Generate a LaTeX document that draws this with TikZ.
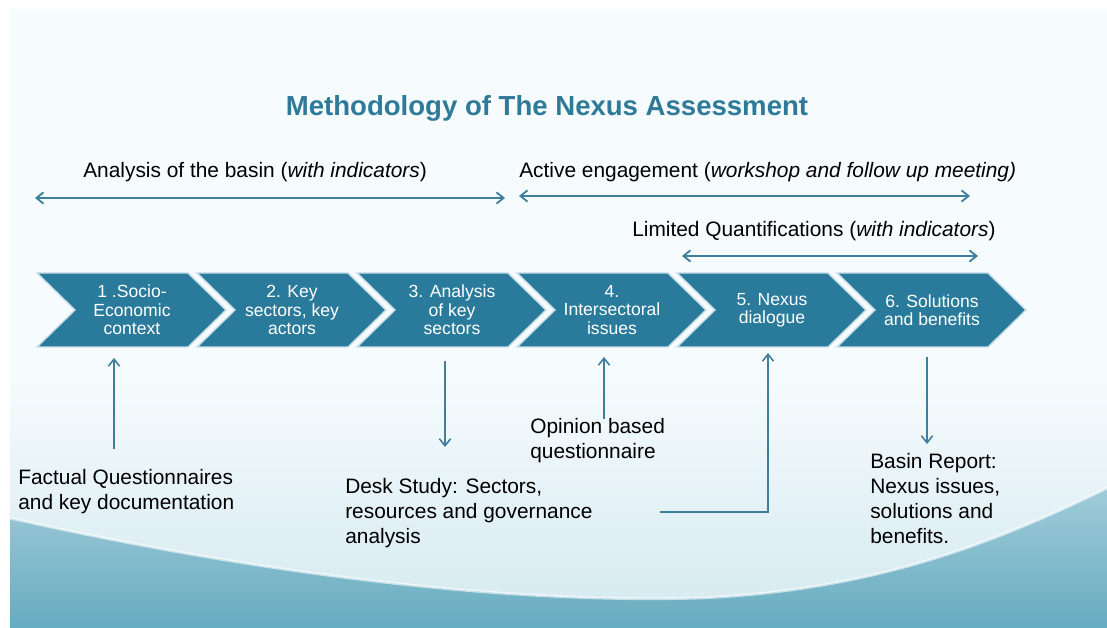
\documentclass[tikz,border=0pt]{standalone}
\usepackage{fontspec}
\setmainfont{Liberation Sans}
\usepackage{tikz}
\usetikzlibrary{arrows.meta,positioning}
\usepackage{xcolor}

\definecolor{chevblue}{HTML}{2A7B9B}
\definecolor{titleblue}{HTML}{2F7A99}
\definecolor{arrblue}{HTML}{3E7F9D}
\definecolor{slidebg}{HTML}{F6FBFD}
\definecolor{wavelight}{HTML}{D3E9F0}
\definecolor{wavemid}{HTML}{A0CCD9}
\definecolor{wavedark}{HTML}{66ABC0}

\tikzset{
    chevron/.style={fill=chevblue, draw=white!75!chevblue, line width=1pt},
    chevtext/.style={text=white, align=center, font=\fontsize{12.5}{13}\selectfont},
    label/.style={anchor=west, inner sep=0pt, font=\fontsize{14.85}{17.8}\selectfont},
    note/.style={anchor=north west, inner sep=0pt, align=left, font=\fontsize{14.85}{17.8}\selectfont},
    span/.style={arrblue, line width=1.3pt, {Straight Barb[length=5pt,width=8pt]}-{Straight Barb[length=5pt,width=8pt]}},
    flow/.style={arrblue, line width=1.1pt, -{Straight Barb[length=5pt,width=8pt]}}
}

\begin{document}
\begin{tikzpicture}[x=0.025cm, y=-0.025cm]
        \useasboundingbox (0,0) rectangle (1107,628);

        % Slide background
        \fill[white] (0,0) rectangle (1107,628);
        \fill[slidebg] (10,9) rectangle (1107,628);
        \shade[top color=slidebg, bottom color=wavelight] (10,380) rectangle (1107,628);
        \shade[top color=wavemid, bottom color=wavedark] (10,628) -- (10,518)
            .. controls (250,572) and (500,604) .. (700,598)
            .. controls (880,590) and (1000,540) .. (1107,488) -- (1107,628) -- cycle;
        \draw[white, opacity=0.6, line width=2pt] (10,518)
            .. controls (250,572) and (500,604) .. (700,598)
            .. controls (880,590) and (1000,540) .. (1107,488);

        % Title
        \node[text=titleblue, font=\bfseries\fontsize{19.6}{22}\selectfont] (title) at (547,108) {Methodology of The Nexus Assessment};

        % Phase labels and spans
        \node[label] (basin) at (83,172) {Analysis of the basin (\textit{with indicators})};
        \node[label] (active) at (519,172) {Active engagement (\textit{workshop and follow up meeting)}};
        \node[label] (limited) at (632,231) {Limited Quantifications (\textit{with indicators})};

        \coordinate (basinL) at (35,198);
        \coordinate (basinR) at (505,198);
        \coordinate (activeL) at (519,196);
        \coordinate (activeR) at (970,196);
        \coordinate (limitedL) at (682,256);
        \coordinate (limitedR) at (978,256);
        \draw[span] (basinL) -- (basinR);
        \draw[span] (activeL) -- (activeR);
        \draw[span] (limitedL) -- (limitedR);

        % Steps (chevrons)
        \foreach \txt [count=\i] in {{1 .Socio-\\Economic\\context}, {2. Key\\sectors, key\\actors},
                {3. Analysis\\of key\\sectors}, {4.\\Intersectoral\\issues},
                {5. Nexus\\dialogue}, {6. Solutions\\and benefits}} {
            \pgfmathsetmacro\xo{37+160*(\i-1)}
            \filldraw[chevron] (\xo,273) -- ++(151,0) -- ++(38,37) -- ++(-38,37) -- ++(-151,0) -- ++(38,-37) -- cycle;
            \node[chevtext] (s\i) at (\xo+95,310) {\txt};
        }

        % Inputs and outputs
        \node[note] (factual) at (18,469) {Factual Questionnaires\\and key documentation};
        \node[note] (desk) at (345,478) {Desk Study: Sectors,\\resources and governance\\analysis};
        \node[note] (opinion) at (530,418) {Opinion based\\questionnaire};
        \node[note] (report) at (870,453) {Basin Report:\\Nexus issues,\\solutions and\\benefits.};

        \coordinate (f1) at (114,449);
        \coordinate (f1t) at (114,358);
        \coordinate (d1) at (445,361);
        \coordinate (d1b) at (445,447);
        \coordinate (o1) at (604,419);
        \coordinate (o1t) at (604,357);
        \coordinate (e1) at (660,512);
        \coordinate (e1t) at (768,353);
        \coordinate (r1) at (927,357);
        \coordinate (r1b) at (927,444);
        \draw[flow] (f1) -- (f1t);
        \draw[flow] (d1) -- (d1b);
        \draw[flow] (o1) -- (o1t);
        \draw[flow] (e1) -| (e1t);
        \draw[flow] (r1) -- (r1b);
    \end{tikzpicture}
\end{document}
